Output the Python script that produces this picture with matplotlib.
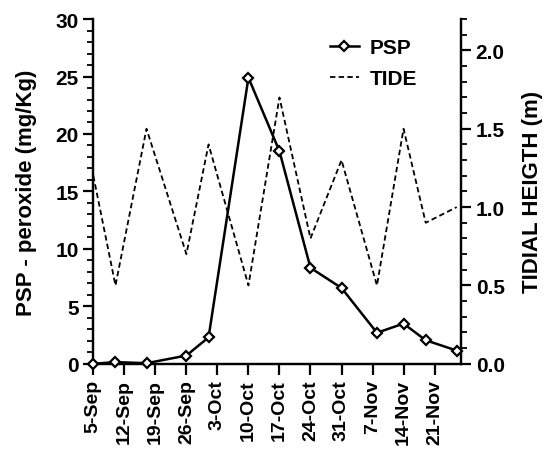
import pandas as pd
import matplotlib
matplotlib.use('Agg')
import matplotlib.pyplot as plt
from matplotlib.ticker import MultipleLocator
from matplotlib.lines import Line2D

plt.rcParams['font.family'] = ['Liberation Sans', 'DejaVu Sans']
plt.rcParams['font.weight'] = 'bold'

YEAR = 2001

# sampling dates (PSP and tide share the same dates)
sample_dates = ['5-Sep', '10-Sep', '17-Sep', '26-Sep', '1-Oct', '10-Oct', '17-Oct',
                '24-Oct', '31-Oct', '8-Nov', '14-Nov', '19-Nov', '26-Nov']
psp = [0.0, 0.15, 0.05, 0.72, 2.3, 24.9, 18.5, 8.35, 6.6, 2.7, 3.5, 2.05, 1.15]
tide = [1.2, 0.5, 1.5, 0.7, 1.4, 0.5, 1.7, 0.8, 1.3, 0.5, 1.5, 0.9, 1.0]

tick_labels = ['5-Sep', '12-Sep', '19-Sep', '26-Sep', '3-Oct', '10-Oct', '17-Oct',
               '24-Oct', '31-Oct', '7-Nov', '14-Nov', '21-Nov']
x_end = '27-Nov'


def to_date(s):
    return pd.to_datetime(f'{s}-{YEAR}', format='%d-%b-%Y')


x = [to_date(d) for d in sample_dates]
ticks = [to_date(d) for d in tick_labels]

fig = plt.figure(figsize=(5.49, 4.56), dpi=100)
ax = fig.add_axes([0.170, 0.200, 0.670, 0.756])
ax2 = ax.twinx()

dash = (0, (3, 1.8))
ax2.plot(x, tide, color='black', lw=1.3, ls=dash, zorder=2)
ax.plot(x, psp, color='black', lw=1.8, marker='D', markersize=5.5,
        markerfacecolor='white', markeredgecolor='black', markeredgewidth=1.6,
        zorder=3, clip_on=False)
ax.set_zorder(ax2.get_zorder() + 1)
ax.patch.set_visible(False)

ax.set_xlim(ticks[0], to_date(x_end))
ax.set_ylim(0, 30)
ax2.set_ylim(0, 2.2)

ax.set_xticks(ticks)
ax.set_xticklabels(tick_labels, rotation=90, fontsize=14, fontweight='bold')
ax.yaxis.set_major_locator(MultipleLocator(5))
ax.yaxis.set_minor_locator(MultipleLocator(1))
ax2.yaxis.set_major_locator(MultipleLocator(0.5))
ax2.yaxis.set_minor_locator(MultipleLocator(0.1))
ax2.yaxis.set_major_formatter(plt.FuncFormatter(lambda v, p: f'{v:.1f}'))

for a in (ax, ax2):
    a.spines['top'].set_visible(False)
    for s in a.spines.values():
        s.set_linewidth(1.6)
    a.tick_params(which='major', length=7, width=1.6, labelsize=15)
    a.tick_params(which='minor', length=4, width=1.3)
    for lab in a.get_yticklabels():
        lab.set_fontweight('bold')
ax.tick_params(axis='x', length=8, labelsize=14, pad=3)

ax.set_ylabel('PSP - peroxide (mg/Kg)', fontsize=16, fontweight='bold', labelpad=13)
ax2.set_ylabel('TIDIAL HEIGTH (m)', fontsize=16, fontweight='bold', labelpad=12)

handles = [Line2D([], [], color='black', lw=1.8, marker='D', markersize=5.5,
                  markerfacecolor='white', markeredgewidth=1.6),
           Line2D([], [], color='black', lw=1.3, ls=dash)]
ax.legend(handles, ['PSP', 'TIDE'], loc='upper right', bbox_to_anchor=(0.93, 1.0),
          frameon=False, prop={'size': 15, 'weight': 'bold'}, handlelength=1.4,
          handletextpad=0.5, labelspacing=0.6)

fig.savefig('out.png', dpi=100)
